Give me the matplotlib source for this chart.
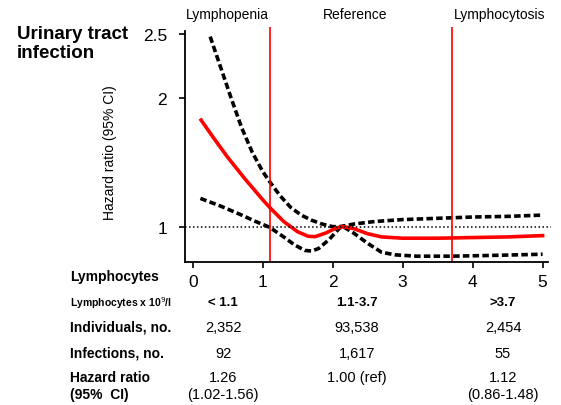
import matplotlib.pyplot as plt

plt.rcParams['font.family'] = ['Liberation Sans', 'DejaVu Sans']

# spline estimate (hazard ratio)
red_x = [0.12, 0.3, 0.5, 0.75, 1.0, 1.1, 1.3, 1.5, 1.65, 1.75, 1.9, 2.05, 2.15, 2.3, 2.5, 2.7, 3.0, 3.5, 4.0, 4.5, 5.0]
red_hr = [1.83, 1.69, 1.54, 1.37, 1.21, 1.15, 1.04, 0.96, 0.925, 0.922, 0.95, 0.99, 1.0, 0.985, 0.945, 0.92, 0.91, 0.91, 0.915, 0.92, 0.93]

upper_x = [0.25, 0.4, 0.55, 0.7, 0.85, 1.0, 1.1, 1.25, 1.4, 1.55, 1.7, 1.85, 2.0, 2.1, 2.3, 2.6, 3.0, 3.5, 4.0, 4.5, 5.0]
upper_ci = [2.48, 2.24, 2.0, 1.77, 1.58, 1.43, 1.35, 1.24, 1.15, 1.09, 1.05, 1.02, 1.0, 1.0, 1.02, 1.04, 1.055, 1.065, 1.075, 1.08, 1.09]

lower_x = [0.11, 0.4, 0.7, 0.9, 1.1, 1.3, 1.45, 1.6, 1.7, 1.8, 1.95, 2.1, 2.15, 2.3, 2.5, 2.7, 2.9, 3.2, 3.7, 4.2, 4.6, 5.0]
lower_ci = [1.22, 1.16, 1.09, 1.04, 0.995, 0.92, 0.86, 0.815, 0.81, 0.83, 0.9, 0.99, 1.0, 0.95, 0.87, 0.8, 0.78, 0.77, 0.77, 0.775, 0.78, 0.785]

cutoffs = [1.1, 3.7]
region_labels = ['Lymphopenia', 'Reference', 'Lymphocytosis']

row_labels = ['Individuals, no.', 'Infections, no.']
groups = ['< 1.1', '1.1-3.7', '>3.7']
individuals = ['2,352', '93,538', '2,454']
infections = ['92', '1,617', '55']
hr_text = ['1.26\n(1.02-1.56)', '1.00 (ref)', '1.12\n(0.86-1.48)']

W, H = 561, 406
fig = plt.figure(figsize=(W / 100, H / 100), dpi=100)
ax = fig.add_axes([185 / W, 1 - 262.7 / H, (551 - 185) / W, (262.7 - 28) / H])

ax.plot(upper_x, upper_ci, color='black', lw=2.6, linestyle=(0, (1.8, 0.9)))
ax.plot(lower_x, lower_ci, color='black', lw=2.6, linestyle=(0, (1.8, 0.9)))
ax.plot(red_x, red_hr, color='#ff0000', lw=2.6)
ax.axhline(1, color='black', lw=1.1, linestyle=(0, (1, 1.6)))
for c in cutoffs:
    ax.axvline(c, color='#ff0000', lw=1.2)

ax.set_xlim(-0.11, 5.12)
ax.set_ylim(0.727, 2.555)
ax.set_xticks([0, 1, 2, 3, 4, 5])
ax.set_yticks([1, 2, 2.5])
ax.set_yticklabels(['1', '2', '2.5'])
ax.spines['top'].set_visible(False)
ax.spines['right'].set_visible(False)
ax.spines['left'].set_bounds(0.727, 2.52)
ax.spines['bottom'].set_bounds(-0.11, 5.08)
for s in ['left', 'bottom']:
    ax.spines[s].set_linewidth(1.3)
ax.tick_params(axis='both', labelsize=12.5, length=4, width=1.2)
ax.tick_params(axis='x', pad=5)
ax.tick_params(axis='y', pad=9)
ax.set_ylabel('Hazard ratio (95% CI)', fontsize=10)
ax.yaxis.set_label_coords(-0.186, 0.47)

# title and region labels
fig.text(17 / W, 1 - 44 / H, 'Urinary tract\ninfection', fontsize=13.5, fontweight='bold',
         va='center', ha='left', linespacing=1.2)
for lab, xc in zip(region_labels, [227, 355, 500]):
    fig.text(xc / W, 1 - 15 / H, lab, fontsize=10, ha='center', va='center')

# table below the axis
col_x = [223, 357, 503]
fig.text(70 / W, 1 - 277 / H, 'Lymphocytes', fontsize=10, fontweight='bold', va='center')
fig.text(70 / W, 1 - 303 / H, 'Lymphocytes x 10$^{9}$/l', fontsize=7.5, fontweight='bold', va='center')
fig.text(70 / W, 1 - 328 / H, row_labels[0], fontsize=10, fontweight='bold', va='center')
fig.text(70 / W, 1 - 354 / H, row_labels[1], fontsize=10, fontweight='bold', va='center')
fig.text(70 / W, 1 - 386.5 / H, 'Hazard ratio\n(95%  CI)', fontsize=10, fontweight='bold',
         va='center', linespacing=1.3)
for i, xc in enumerate(col_x):
    fig.text(xc / W, 1 - 303 / H, groups[i], fontsize=9.5, fontweight='bold', ha='center', va='center')
    fig.text(xc / W, 1 - 328 / H, individuals[i], fontsize=10.5, ha='center', va='center')
    fig.text(xc / W, 1 - 354 / H, infections[i], fontsize=10.5, ha='center', va='center')
    if '\n' in hr_text[i]:
        fig.text(xc / W, 1 - 386.5 / H, hr_text[i], fontsize=10.5, ha='center', va='center', linespacing=1.3)
    else:
        fig.text(xc / W, 1 - 378 / H, hr_text[i], fontsize=10.5, ha='center', va='center')

fig.savefig('out.png', dpi=100)
